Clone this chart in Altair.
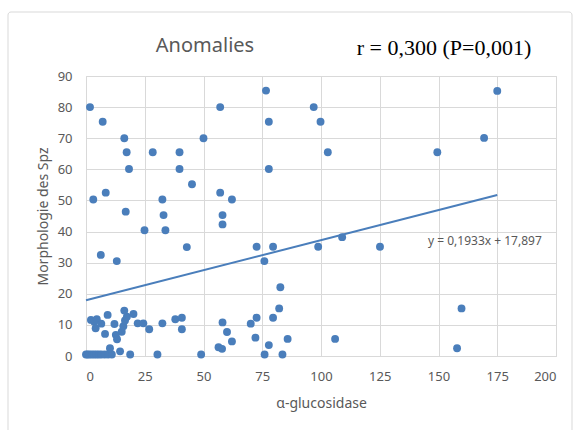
import altair as alt
import pandas as pd

# alpha-glucosidase (x) and morphology (y) values
x_vals = [
    1.7, 7.1, 16.3, 17.3, 28.4, 39.8, 18.3, 39.8, 45.1, 50.0, 57.1, 8.4, 3.1, 32.5,
    16.9, 33.0, 57.1, 62.1, 58.1, 58.1, 24.9, 33.8, 42.9, 6.3, 13.1,
    76.6, 77.8, 96.9, 99.8, 102.9, 77.8, 149.5, 175.0, 169.4, 159.8, 157.9,
    72.6, 79.6, 75.9, 98.8, 109.0, 125.1, 82.7, 82.2, 72.6, 79.6, 70.1, 72.1,
    85.8, 106.0, 77.8, 76.0, 83.6,
    58.1, 60.0, 62.1, 56.4, 57.9, 49.0,
    38.0, 40.8, 40.8,
    2.1, 3.5, 4.6, 4.1, 6.5, 9.2, 8.1, 12.1, 12.7, 13.2,
    15.2, 15.9, 16.6, 17.4, 16.3, 20.2, 22.0, 24.4, 26.9, 32.5,
    0.0, 0.7, 1.5, 2.5, 3.5, 4.5, 5.5, 6.6, 8.0, 9.4, 11.0, 10.2, 14.5,
    18.8, 30.4,
]
y_vals = [
    80.0, 75.3, 70.0, 65.5, 65.5, 65.5, 60.1, 60.1, 55.2, 70.0, 80.0, 52.5, 50.3, 50.3,
    46.4, 45.3, 52.5, 50.3, 45.3, 42.3, 40.4, 40.4, 35.0, 32.5, 30.5,
    85.3, 75.3, 80.0, 75.3, 65.5, 60.1, 65.5, 85.2, 70.1, 15.3, 2.5,
    35.1, 35.1, 30.5, 35.1, 38.2, 35.1, 22.1, 15.3, 12.3, 12.3, 10.4, 5.9,
    5.5, 5.5, 3.5, 0.5, 0.5,
    10.8, 7.7, 4.7, 2.8, 2.3, 0.5,
    11.8, 12.3, 8.6,
    11.6, 11.0, 11.8, 8.9, 10.4, 13.2, 7.1, 10.3, 6.8, 5.4,
    7.8, 9.6, 11.4, 12.6, 14.6, 13.5, 10.5, 10.5, 8.6, 10.5,
    0.5, 0.5, 0.5, 0.5, 0.5, 0.5, 0.5, 0.5, 0.5, 0.5, 0.5, 2.5, 1.5,
    0.5, 0.5,
]

slope = 0.1933
intercept = 17.897
line_x = [0, 175]
x_ticks = [0, 25, 50, 75, 100, 125, 150, 175, 200]
y_ticks = [0, 10, 20, 30, 40, 50, 60, 70, 80, 90]

title_text = ["Anomalies"]
stat_text = ["r = 0,300 (P=0,001)"]
eq_text = ["y = 0,1933x + 17,897"]

BLUE = "#4a7ebb"
GRID = "#d9d9d9"
TXT = "#595959"
FONT = "Noto Sans"

df = pd.DataFrame({"x": x_vals, "y": y_vals})
line_df = pd.DataFrame({"x": line_x, "y": [slope * v + intercept for v in line_x]})

xs = alt.Scale(domain=[0, 200], nice=False)
ys = alt.Scale(domain=[0, 90], nice=False)

x_axis = alt.Axis(title="α-glucosidase", values=x_ticks, tickCount=50, ticks=False,
                  labelOverlap=False, labelPadding=14, titlePadding=13,
                  domainColor=GRID)
y_axis = alt.Axis(title="Morphologie des Spz", values=y_ticks, tickCount=50, ticks=False,
                  labelOverlap=False, domain=False, labelPadding=14, titlePadding=7)

points = alt.Chart(df).mark_circle(size=62, color=BLUE, opacity=1).encode(
    x=alt.X("x:Q", scale=xs, axis=x_axis),
    y=alt.Y("y:Q", scale=ys, axis=y_axis),
)

trend = alt.Chart(line_df).mark_line(color=BLUE, strokeWidth=2).encode(
    x=alt.X("x:Q", scale=xs, axis=x_axis), y=alt.Y("y:Q", scale=ys, axis=y_axis)
)

border = alt.Chart(pd.DataFrame({"a": [0]})).mark_rect(
    fill=None, stroke=GRID, strokeWidth=1, clip=False, cornerRadius=3
).encode(x=alt.value(-78), x2=alt.value(486), y=alt.value(-64), y2=alt.value(420))

title = alt.Chart(pd.DataFrame({"t": title_text})).mark_text(
    font=FONT, fontSize=20, color=TXT, align="center", baseline="middle"
).encode(x=alt.value(119), y=alt.value(-30), text="t:N")

stat = alt.Chart(pd.DataFrame({"t": stat_text})).mark_text(
    font="Liberation Serif", fontSize=22, color="#000000", align="center", baseline="middle"
).encode(x=alt.value(358), y=alt.value(-28), text="t:N")

eq = alt.Chart(pd.DataFrame({"t": eq_text})).mark_text(
    font=FONT, fontSize=12, color=TXT, align="left", baseline="middle", clip=False
).encode(x=alt.value(342), y=alt.value(165), text="t:N")

chart = alt.layer(border, points, trend, title, stat, eq).properties(
    width=470, height=280,
    autosize=alt.AutoSizeParams(type="none"),
    padding={"left": 86, "top": 76, "right": 26, "bottom": 74},
    background="white",
).configure_view(stroke=GRID).configure_axis(
    gridColor=GRID, labelColor=TXT, titleColor=TXT, labelFont=FONT, titleFont=FONT,
    labelFontSize=13, titleFontSize=14, titleFontWeight="normal",
)

chart.save("out.html", embed_options={"renderer": "svg", "actions": False})
